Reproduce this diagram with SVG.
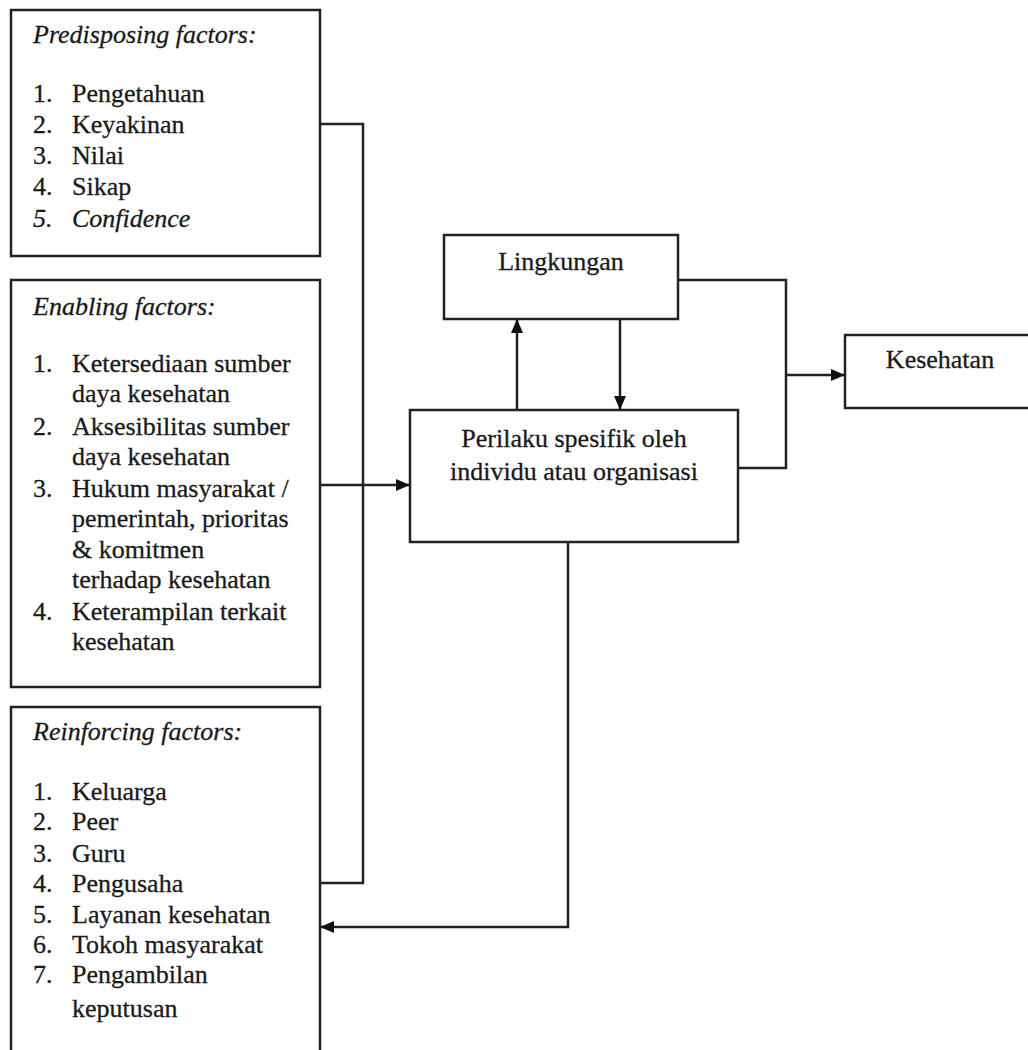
<svg xmlns="http://www.w3.org/2000/svg" width="1028" height="1050" viewBox="0 0 1028 1050">
<style>
.box{fill:#fff;stroke:#222;stroke-width:2.5}
.t{font-family:"Liberation Serif","Times New Roman",serif;font-size:26px;fill:#1a1a1a;stroke:#1a1a1a;stroke-width:0.3}
.i{font-style:italic}
.c{text-anchor:middle}
.ln{fill:none;stroke:#222;stroke-width:2.5}
</style>
<defs>
<marker id="ah" viewBox="0 0 14 12" refX="14" refY="6" markerWidth="14" markerHeight="12" markerUnits="userSpaceOnUse" orient="auto">
<path d="M0,0 L14,6 L0,12 Z" fill="#111"/>
</marker>
</defs>
<rect width="1028" height="1050" fill="#fff"/>
<g id="predisposing">
<rect class="box" x="11" y="10" width="309" height="246"/>
<text class="t i" x="33" y="43">Predisposing factors:</text>
<text class="t" x="33" y="102">1.</text><text class="t" x="72" y="102">Pengetahuan</text>
<text class="t" x="33" y="133">2.</text><text class="t" x="72" y="133">Keyakinan</text>
<text class="t" x="33" y="164">3.</text><text class="t" x="72" y="164">Nilai</text>
<text class="t" x="33" y="195">4.</text><text class="t" x="72" y="195">Sikap</text>
<text class="t i" x="33" y="227">5.</text><text class="t i" x="72" y="227">Confidence</text>
</g>
<g id="enabling">
<rect class="box" x="11" y="280" width="309" height="407"/>
<text class="t i" x="33" y="315">Enabling factors:</text>
<text class="t" x="33" y="372">1.</text><text class="t" x="72" y="372">Ketersediaan sumber</text>
<text class="t" x="72" y="402">daya kesehatan</text>
<text class="t" x="33" y="435">2.</text><text class="t" x="72" y="435">Aksesibilitas sumber</text>
<text class="t" x="72" y="465">daya kesehatan</text>
<text class="t" x="33" y="497">3.</text><text class="t" x="72" y="497">Hukum masyarakat /</text>
<text class="t" x="72" y="527">pemerintah, prioritas</text>
<text class="t" x="72" y="558">&amp; komitmen</text>
<text class="t" x="72" y="588">terhadap kesehatan</text>
<text class="t" x="33" y="620">4.</text><text class="t" x="72" y="620">Keterampilan terkait</text>
<text class="t" x="72" y="650">kesehatan</text>
</g>
<g id="reinforcing">
<rect class="box" x="11" y="707" width="309" height="360"/>
<text class="t i" x="33" y="740">Reinforcing factors:</text>
<text class="t" x="33" y="800">1.</text><text class="t" x="72" y="800">Keluarga</text>
<text class="t" x="33" y="830">2.</text><text class="t" x="72" y="830">Peer</text>
<text class="t" x="33" y="862">3.</text><text class="t" x="72" y="862">Guru</text>
<text class="t" x="33" y="892">4.</text><text class="t" x="72" y="892">Pengusaha</text>
<text class="t" x="33" y="923">5.</text><text class="t" x="72" y="923">Layanan kesehatan</text>
<text class="t" x="33" y="953">6.</text><text class="t" x="72" y="953">Tokoh masyarakat</text>
<text class="t" x="33" y="983">7.</text><text class="t" x="72" y="983">Pengambilan</text>
<text class="t" x="72" y="1017">keputusan</text>
</g>
<g id="lingkungan">
<rect class="box" x="444" y="235" width="234" height="84"/>
<text class="t c" x="561" y="270">Lingkungan</text>
</g>
<g id="perilaku">
<rect class="box" x="410" y="410" width="328" height="132"/>
<text class="t c" x="574" y="447">Perilaku spesifik oleh</text>
<text class="t c" x="574" y="480">individu atau organisasi</text>
</g>
<g id="kesehatan">
<rect class="box" x="845" y="335" width="200" height="73"/>
<text class="t c" x="940" y="368">Kesehatan</text>
</g>
<g id="connectors">
<polyline class="ln" points="320,124 363,124 363,883 320,883"/>
<line class="ln" x1="320" y1="485" x2="410" y2="485" marker-end="url(#ah)"/>
<line class="ln" x1="517" y1="410" x2="517" y2="319" marker-end="url(#ah)"/>
<line class="ln" x1="620" y1="319" x2="620" y2="410" marker-end="url(#ah)"/>
<polyline class="ln" points="678,280 786,280 786,468 738,468"/>
<line class="ln" x1="786" y1="375" x2="845" y2="375" marker-end="url(#ah)"/>
<polyline class="ln" points="568,542 568,927 320,927" marker-end="url(#ah)"/>
</g>
</svg>
